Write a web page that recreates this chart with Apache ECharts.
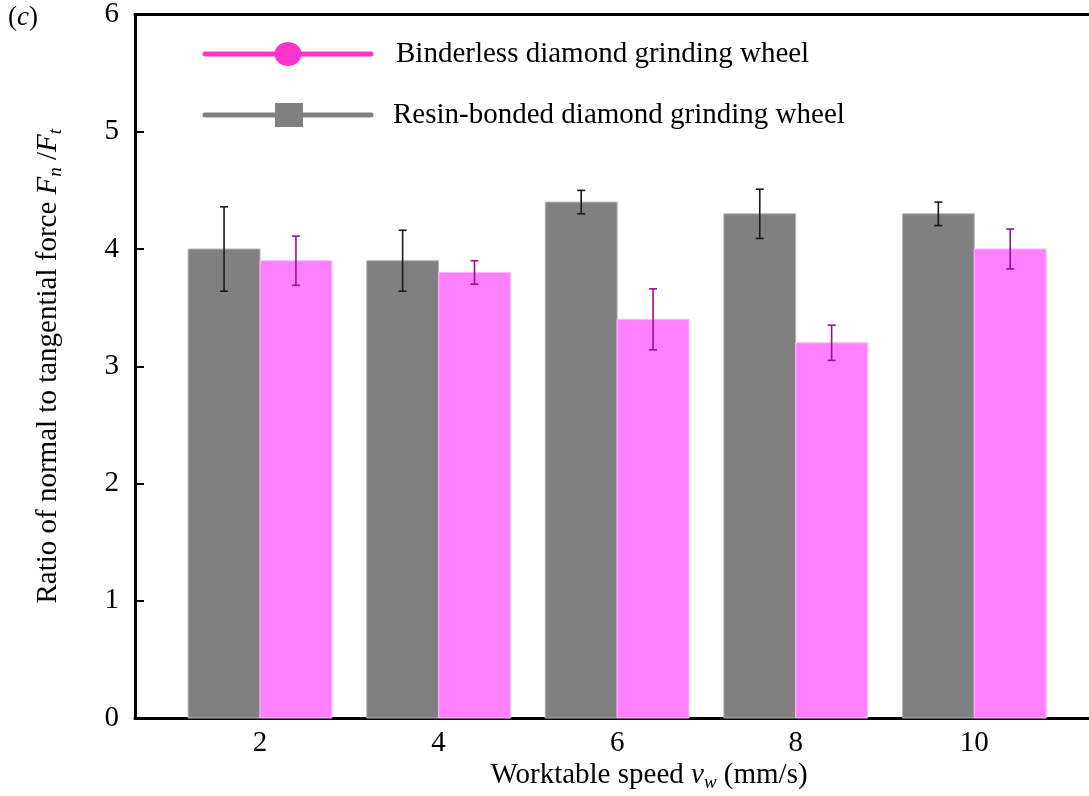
<!DOCTYPE html>
<html>
<head>
<meta charset="utf-8">
<script src="https://cdn.jsdelivr.net/npm/echarts@6/dist/echarts.min.js"></script>
<style>
  html, body { margin: 0; padding: 0; background: #fff; }
  #chart { width: 1089px; height: 796px; }
</style>
</head>
<body>
<div id="chart"></div>
<script>
// Worktable speed (mm/s)
const speeds = [2, 4, 6, 8, 10];
// Ratio Fn/Ft, resin-bonded wheel, with error half-widths
const resinRatio = [4.0, 3.9, 4.4, 4.3, 4.3];
const resinErr = [0.36, 0.26, 0.10, 0.21, 0.10];
// Ratio Fn/Ft, binderless wheel, with error half-widths
const binderlessRatio = [3.9, 3.8, 3.4, 3.2, 4.0];
const binderlessErr = [0.21, 0.10, 0.26, 0.15, 0.17];
// Y-axis tick values
const yTicks = [0, 1, 2, 3, 4, 5, 6];

const FONT = "'Liberation Serif', 'Times New Roman', serif";
const FS = 29;         // main text size
const BAR_W = 0.805;   // bar width in axis units
const CAP = 4;         // half width of error bar caps, px

function makeRows(vals, errs) {
  return speeds.map((s, i) => [s, vals[i], errs[i]]);
}

function barRenderer(side, fill, edge, errColor) {
  return function (params, api) {
    const x = api.value(0), y = api.value(1), e = api.value(2);
    const x0 = side < 0 ? x - BAR_W : x;
    const x1 = side < 0 ? x : x + BAR_W;
    const pBase = api.coord([x0, 0]);
    const pTop = api.coord([x1, y]);
    const cx = api.coord([(x0 + x1) / 2, y])[0];
    const hi = api.coord([x, y + e])[1];
    const lo = api.coord([x, y - e])[1];
    return {
      type: 'group',
      children: [
        {
          type: 'rect',
          shape: { x: pBase[0], y: pTop[1], width: pTop[0] - pBase[0], height: pBase[1] - pTop[1] },
          style: { fill: fill, stroke: edge, lineWidth: 1 }
        },
        { type: 'line', shape: { x1: cx, y1: hi, x2: cx, y2: lo }, style: { stroke: errColor, lineWidth: 1.6 } },
        { type: 'line', shape: { x1: cx - CAP, y1: hi, x2: cx + CAP, y2: hi }, style: { stroke: errColor, lineWidth: 1.6 } },
        { type: 'line', shape: { x1: cx - CAP, y1: lo, x2: cx + CAP, y2: lo }, style: { stroke: errColor, lineWidth: 1.6 } }
      ]
    };
  };
}

const chart = echarts.init(document.getElementById('chart'), null, { renderer: 'canvas' });

const option = {
  backgroundColor: '#fff',
  animation: false,
  textStyle: { fontFamily: FONT },
  grid: { left: 135, top: 12, right: 0, height: 706 },
  xAxis: [
    {
      type: 'value',
      min: 0.6, max: 11.285,
      splitLine: { show: false },
      axisLine: { show: true, lineStyle: { color: '#000', width: 3 } },
      axisTick: { show: false },
      axisLabel: {
        customValues: speeds,
        color: '#000', fontFamily: FONT, fontSize: FS, margin: 11
      }
    },
    {
      // frame line along the top of the plot
      type: 'value', position: 'top',
      min: 0.6, max: 11.285,
      splitLine: { show: false },
      axisLine: { show: true, lineStyle: { color: '#000', width: 3 } },
      axisTick: { show: false },
      axisLabel: { show: false }
    }
  ],
  yAxis: {
    type: 'value',
    min: 0, max: 6, interval: 1,
    splitLine: { show: false },
    axisLine: { show: true, lineStyle: { color: '#000', width: 3 } },
    axisTick: { show: true, inside: true, length: 9, lineStyle: { color: '#000', width: 2 }, customValues: yTicks },
    axisLabel: { color: '#000', fontFamily: FONT, fontSize: FS, margin: 16, customValues: yTicks },
    name: '{r|Ratio of normal to tangential force }{i|F}{s|n}{r| /}{i|F}{s|t}',
    nameLocation: 'middle',
    nameGap: 70,
    nameRotate: 90,
    nameTextStyle: {
      color: '#000',
      rich: {
        r: { fontFamily: FONT, fontSize: FS, color: '#000', lineHeight: 34 },
        i: { fontFamily: FONT, fontSize: FS, fontStyle: 'italic', color: '#000', lineHeight: 34 },
        s: { fontFamily: FONT, fontSize: 19, fontStyle: 'italic', color: '#000', lineHeight: 34, verticalAlign: 'bottom', padding: [9, 0, 0, 0] }
      }
    }
  },
  graphic: [
    {
      type: 'text', left: 8, top: 4,
      style: {
        text: '({i|c})', fontFamily: FONT, fontSize: 27, fill: '#000',
        rich: { i: { fontFamily: FONT, fontSize: 27, fontStyle: 'italic', fill: '#000' } }
      }
    },
    // legend entries
    { type: 'line', shape: { x1: 205, y1: 54, x2: 371, y2: 54 }, style: { stroke: '#ff33cc', lineWidth: 5, lineCap: 'round' } },
    { type: 'ellipse', shape: { cx: 288, cy: 54, rx: 13.5, ry: 12 }, style: { fill: '#ff33cc' } },
    { type: 'text', x: 396, y: 54, style: { text: 'Binderless diamond grinding wheel', fontFamily: FONT, fontSize: FS, fill: '#000', verticalAlign: 'middle' } },
    { type: 'line', shape: { x1: 205, y1: 115, x2: 371, y2: 115 }, style: { stroke: '#808080', lineWidth: 5, lineCap: 'round' } },
    { type: 'rect', shape: { x: 275, y: 103, width: 28, height: 24 }, style: { fill: '#808080' } },
    { type: 'text', x: 393, y: 115, style: { text: 'Resin-bonded diamond grinding wheel', fontFamily: FONT, fontSize: FS, fill: '#000', verticalAlign: 'middle' } },
    // x-axis title
    {
      type: 'text', x: 649, y: 775,
      style: {
        text: 'Worktable speed {i|v}{s|w} (mm/s)',
        fontFamily: FONT, fontSize: FS, fill: '#000', align: 'center', verticalAlign: 'middle',
        rich: {
          i: { fontFamily: FONT, fontSize: FS, fontStyle: 'italic', fill: '#000', lineHeight: 34 },
          s: { fontFamily: FONT, fontSize: 19, fontStyle: 'italic', fill: '#000', lineHeight: 34, verticalAlign: 'bottom', padding: [9, 0, 0, 0] }
        }
      }
    }
  ],
  series: [
    {
      name: 'Resin-bonded diamond grinding wheel',
      type: 'custom',
      renderItem: barRenderer(-1, '#808080', '#b4b4b4', '#1a1a1a'),
      encode: { x: 0, y: 1 },
      data: makeRows(resinRatio, resinErr),
      z: 2
    },
    {
      name: 'Binderless diamond grinding wheel',
      type: 'custom',
      renderItem: barRenderer(1, '#ff80ff', '#ffb8ff', '#990f99'),
      encode: { x: 0, y: 1 },
      data: makeRows(binderlessRatio, binderlessErr),
      z: 3
    }
  ]
};

chart.setOption(option);
</script>
</body>
</html>
